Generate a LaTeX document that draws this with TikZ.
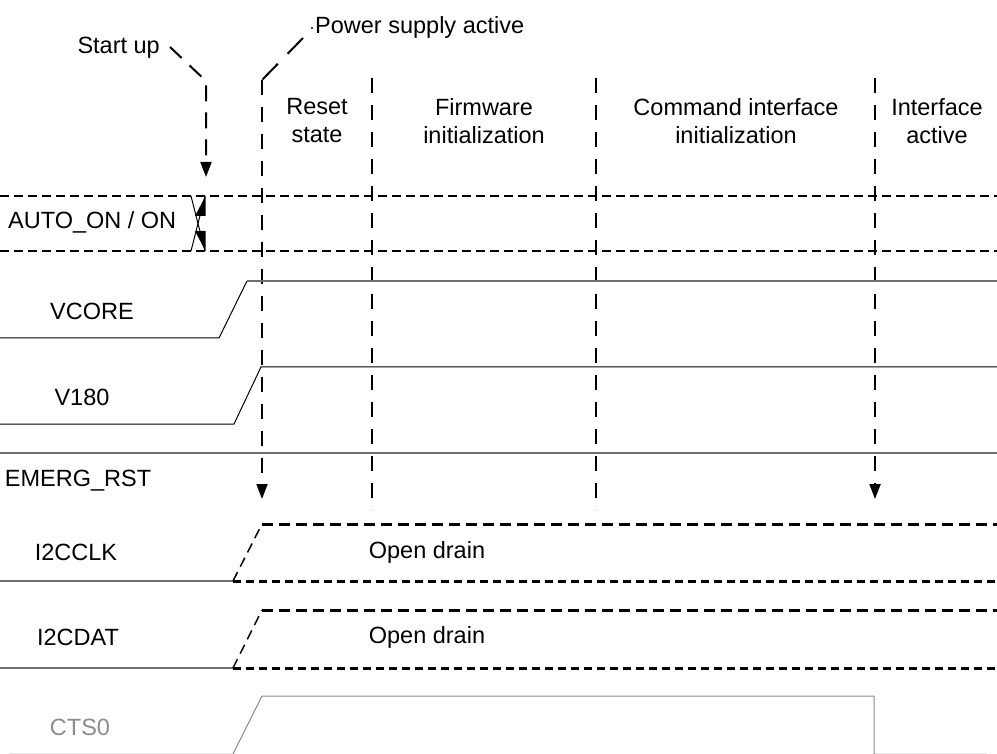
\documentclass[tikz,border=0pt]{standalone}
\usepackage{fontspec}
\setmainfont{Liberation Sans}
\usetikzlibrary{arrows.meta}
\definecolor{sig}{HTML}{6E6E6E}
\definecolor{ctsgray}{HTML}{8C8C8C}
\definecolor{faint}{HTML}{E4E4E4}
\begin{document}
\begin{tikzpicture}[x=1pt,y=-1pt,
  lbl/.style={font=\fontsize{23.5}{28}\selectfont, inner sep=0pt, align=center},
  wire/.style={line width=1pt, black},
  gwire/.style={line width=1.4pt, sig},
  ctswire/.style={line width=1pt, ctsgray},
  autoline/.style={line width=1.5pt, dash pattern=on 9pt off 5pt},
  phaseline/.style={line width=2pt, dash pattern=on 15pt off 12pt},
  callout/.style={line width=2pt, dash pattern=on 16pt off 11pt},
  pscallout/.style={line width=2pt, dash pattern=on 22pt off 14pt},
  odtop/.style={line width=3pt, dash pattern=on 11pt off 6pt},
  odbot/.style={line width=3pt, dash pattern=on 8pt off 5pt},
  odedge/.style={line width=1.5pt, dash pattern=on 10pt off 6pt},
  tip/.style={-{Triangle[length=15pt,width=11pt]}}
]
\useasboundingbox (0,0) rectangle (997,754);

% ---- event callouts ----
\node[lbl, anchor=east] (startup) at (160,48) {Start up};
\node[lbl, anchor=west] (psa) at (315,27) {Power supply active};
\coordinate (su0) at (170,47);
\coordinate (su1) at (206,81);
\coordinate (su2) at (206,177);
\draw[callout, tip] (su0) -- (su1) -- (su2);

\coordinate (ps0) at (312,28);
\coordinate (psd) at (303,38);
\coordinate (ps1) at (262,80);
\coordinate (ps2) at (262,499);
\fill (ps0) circle (1.1pt);
\draw[pscallout] (psd) -- (ps1);
\draw[phaseline, tip] (ps1) -- (ps2);

% ---- phase boundaries ----
\coordinate (b1t) at (372,78);  \coordinate (b1b) at (372,510);
\coordinate (b2t) at (596,78);  \coordinate (b2b) at (596,510);
\coordinate (b3t) at (875,78);  \coordinate (b3b) at (875,499);
\draw[phaseline] (b1t) -- (b1b);
\draw[phaseline] (b2t) -- (b2b);
\draw[phaseline, tip] (b3t) -- (b3b);

\node[lbl] (reset) at (317,121) {Reset\\state};
\node[lbl] (fw) at (484,121) {Firmware\\initialization};
\node[lbl] (cmd) at (736,121) {Command interface\\initialization};
\node[lbl] (act) at (937,121) {Interface\\active};

% ---- AUTO_ON / ON ----
\node[lbl, anchor=west] (auto) at (8,222) {AUTO\_ON / ON};
\draw[autoline] (0,196) -- (997,196);
\draw[autoline] (0,251) -- (997,251);
\draw[line width=1pt] (191,196) -- (205,251);
\draw[line width=1pt] (191,251) -- (205,196);
\fill (205.5,196) -- (195,216) -- (205.5,216) -- cycle;
\fill (195,231) -- (205.5,231) -- (205.5,251) -- cycle;

% ---- VCORE ----
\node[lbl] (vcore) at (92,311) {VCORE};
\draw[wire] (0,338) -- (219,338) -- (247,281);
\draw[gwire] (247,281) -- (997,281);

% ---- V180 ----
\node[lbl] (v180) at (82,397) {V180};
\draw[wire] (0,424) -- (234,424) -- (261,367) -- (997,367);

% ---- EMERG_RST ----
\node[lbl] (emerg) at (78,481) {EMERG\_RST};
\draw[gwire] (0,453) -- (997,453);

% ---- I2CCLK ----
\node[lbl] (clk) at (76,552) {I2CCLK};
\node[lbl] (od1) at (427,552) {Open drain};
\draw[gwire] (0,581) -- (233,581);
\draw[odedge] (233,581) -- (262,524);
\draw[odtop] (262,524) -- (997,524);
\draw[odbot] (233,581) -- (997,581);

% ---- I2CDAT ----
\node[lbl] (dat) at (78,637) {I2CDAT};
\node[lbl] (od2) at (427,637) {Open drain};
\draw[gwire] (0,668) -- (233,668);
\draw[odedge] (233,668) -- (262,610);
\draw[odtop] (262,610) -- (997,610);
\draw[odbot] (233,668) -- (997,668);

% ---- CTS0 ----
\node[lbl, text=ctsgray] (cts) at (80,727) {CTS0};
\draw[faint, line width=1pt] (10,753) -- (233,753);
\draw[faint, line width=1pt] (874,753) -- (987,753);
\draw[ctswire] (233,754) -- (262,696) -- (874,696) -- (874,754);
\end{tikzpicture}
\end{document}
